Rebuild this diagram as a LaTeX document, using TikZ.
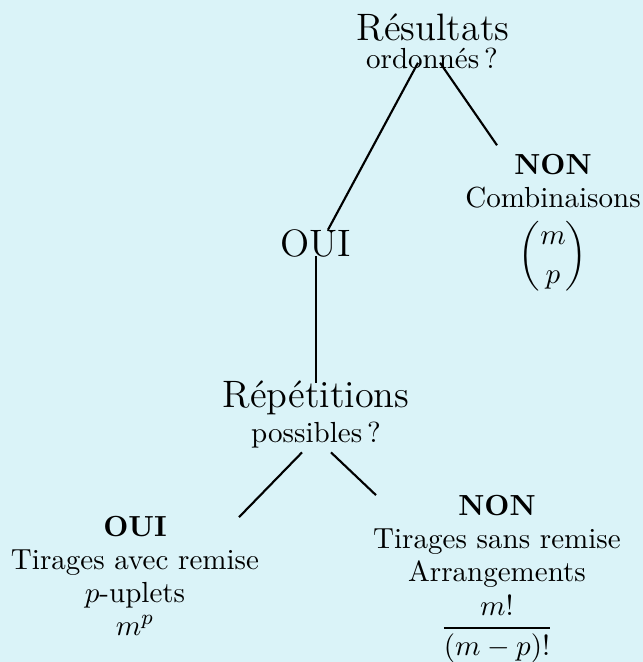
\documentclass[tikz,border=0pt]{standalone}
\usepackage{amsmath}
\usetikzlibrary{calc}
\definecolor{fond}{RGB}{218,243,248}
\tikzset{
  titre/.style={font=\Large},
  feuille/.style={align=center,font=\fontsize{10.95}{12.4}\selectfont}
}

\begin{document}
\begin{tikzpicture}[x=0.377pt,y=-0.377pt]
\fill[fond] (0,0) rectangle (643,662);
\useasboundingbox (0,0) rectangle (643,662);

\node[titre] (res)  at (433,28)  {Résultats};
\node[feuille] (ordo) at (432,58)  {ordonnés\,?};

\node[titre] (oui) at (316,243) {OUI};

\node[feuille] (comb) at (553,223) {\textbf{NON}\\Combinaisons\\[4pt]$\dbinom{m}{p}$};

\node[titre] (rep)  at (316,398) {Répétitions};
\node[feuille] (poss) at (316,435) {possibles\,?};

\node[feuille] (avec) at (135,576) {\textbf{OUI}\\Tirages avec remise\\$p$-uplets\\$m^p$};
\node[feuille] (sans) at (497,579) {\textbf{NON}\\Tirages sans remise\\Arrangements\\[2pt]$\dfrac{m!}{(m-p)!}$};

\draw[thick] ($(ordo.south)+(-14,-15)$) -- ($(oui.north)+(12,10)$);
\draw[thick] ($(ordo.south)+(8,-15)$) -- ($(comb.north)+(-56,0)$);
\draw[thick] ($(oui.south)+(0,-10)$) -- ($(rep.north)+(0,11)$);
\draw[thick] ($(poss.south)+(-14,-5)$) -- ($(avec.north)+(104,10)$);
\draw[thick] ($(poss.south)+(15,-5)$) -- ($(sans.north)+(-121,9)$);
\end{tikzpicture}
\end{document}
